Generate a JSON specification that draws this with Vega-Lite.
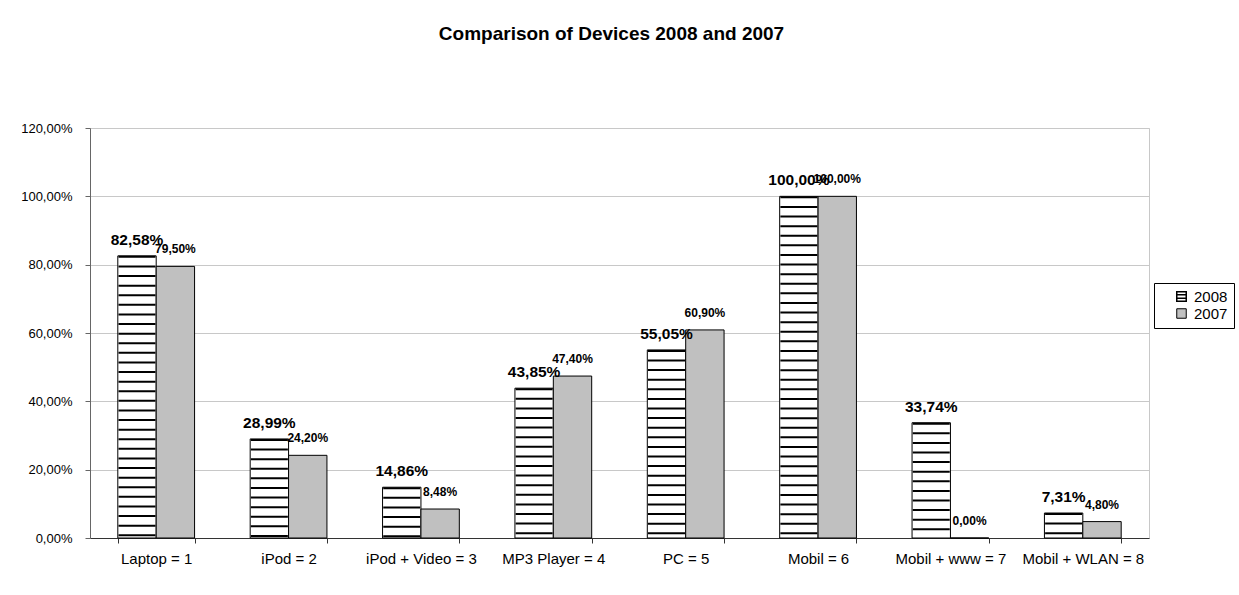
{
  "$schema": "https://vega.github.io/schema/vega-lite/v6.json",
  "width": 1059,
  "height": 410,
  "autosize": "none",
  "padding": {"left": 90, "top": 128, "right": 90, "bottom": 57},
  "background": "white",
  "title": {
    "text": "Comparison of Devices 2008 and 2007",
    "fontSize": 19,
    "fontWeight": "bold",
    "font": "Liberation Sans",
    "color": "black",
    "anchor": "middle",
    "frame": "group",
    "baseline": "alphabetic",
    "offset": 63,
    "dx": -8
  },
  "data": {
    "values": [
      {"device": "Laptop = 1", "year": "2008", "value": 0.8258},
      {"device": "Laptop = 1", "year": "2007", "value": 0.7950},
      {"device": "iPod = 2", "year": "2008", "value": 0.2899},
      {"device": "iPod = 2", "year": "2007", "value": 0.2420},
      {"device": "iPod + Video = 3", "year": "2008", "value": 0.1486},
      {"device": "iPod + Video = 3", "year": "2007", "value": 0.0848},
      {"device": "MP3 Player = 4", "year": "2008", "value": 0.4385},
      {"device": "MP3 Player = 4", "year": "2007", "value": 0.4740},
      {"device": "PC = 5", "year": "2008", "value": 0.5505},
      {"device": "PC = 5", "year": "2007", "value": 0.6090},
      {"device": "Mobil = 6", "year": "2008", "value": 1.0},
      {"device": "Mobil = 6", "year": "2007", "value": 1.0},
      {"device": "Mobil + www = 7", "year": "2008", "value": 0.3374},
      {"device": "Mobil + www = 7", "year": "2007", "value": 0.0},
      {"device": "Mobil + WLAN = 8", "year": "2008", "value": 0.0731},
      {"device": "Mobil + WLAN = 8", "year": "2007", "value": 0.0480}
    ]
  },
  "encoding": {
    "x": {
      "field": "device",
      "type": "nominal",
      "sort": null,
      "scale": {"paddingInner": 0.42, "paddingOuter": 0.21},
      "axis": {
        "title": null,
        "labelAngle": 0,
        "labelFontSize": 15,
        "labelFont": "Liberation Sans",
        "labelColor": "black",
        "labelPadding": 8,
        "tickBand": "extent",
        "tickSize": 5,
        "tickColor": "#333333",
        "domainColor": "#333333",
        "grid": false
      }
    },
    "xOffset": {
      "field": "year",
      "type": "nominal",
      "sort": ["2008", "2007"],
      "scale": {"paddingInner": 0, "paddingOuter": 0}
    },
    "y": {
      "field": "value",
      "type": "quantitative",
      "scale": {"domain": [0, 1.2], "nice": false},
      "axis": {
        "title": null,
        "values": [0, 0.2, 0.4, 0.6, 0.8, 1.0, 1.2],
        "format": ".2%",
        "labelFontSize": 13,
        "labelFont": "Liberation Sans",
        "labelColor": "black",
        "labelPadding": 13,
        "tickSize": 5,
        "tickColor": "#666666",
        "domainColor": "#666666",
        "grid": true,
        "gridColor": "#c8c8c8"
      }
    }
  },
  "layer": [
    {
      "mark": {"type": "bar", "stroke": "black", "strokeWidth": 1},
      "encoding": {
        "fill": {
          "field": "year",
          "type": "nominal",
          "scale": {"domain": ["2008", "2007"], "range": ["white", "#c0c0c0"]},
          "legend": {
            "title": null,
            "orient": "none",
            "legendX": 1064,
            "legendY": 155,
            "strokeColor": "black",
            "padding": 6,
            "symbolOffset": 14,
            "symbolType": "square",
            "symbolSize": 90,
            "symbolStrokeColor": "black",
            "symbolStrokeWidth": 1,
            "labelFontSize": 15,
            "labelFont": "Liberation Sans",
            "labelColor": "black",
            "labelOffset": 5,
            "rowPadding": 1,
            "labelLimit": 60,
            "encode": {
              "symbols": {
                "update": {
                  "shape": {"signal": "datum.value == '2008' ? 'M-1,-1H1V1H-1Z M-1,-0.35H1 M-1,0.35H1' : 'square'"},
                  "strokeWidth": {"signal": "datum.value == '2008' ? 1.5 : 1"}
                }
              }
            }
          }
        }
      }
    },
    {
      "transform": [{"filter": "datum.year == '2008'"}],
      "mark": {"type": "rule", "stroke": "black", "strokeWidth": 37, "strokeDash": [2, 7.6], "strokeCap": "butt"},
      "encoding": {
        "y2": {"datum": 0}
      }
    },
    {
      "transform": [{"filter": "datum.year == '2008'"}],
      "mark": {"type": "text", "baseline": "alphabetic", "dy": -11, "fontSize": 15.5, "fontWeight": "bold", "font": "Liberation Sans", "color": "black"},
      "encoding": {
        "text": {"field": "value", "type": "quantitative", "format": ".2%"}
      }
    },
    {
      "transform": [{"filter": "datum.year == '2007'"}],
      "mark": {"type": "text", "baseline": "alphabetic", "dy": -13, "fontSize": 12, "fontWeight": "bold", "font": "Liberation Sans", "color": "black"},
      "encoding": {
        "text": {"field": "value", "type": "quantitative", "format": ".2%"}
      }
    }
  ],
  "config": {
    "locale": {
      "number": {"decimal": ",", "thousands": ".", "grouping": [3], "currency": ["", " €"]}
    },
    "view": {"stroke": "#c8c8c8", "strokeWidth": 1}
  }
}
